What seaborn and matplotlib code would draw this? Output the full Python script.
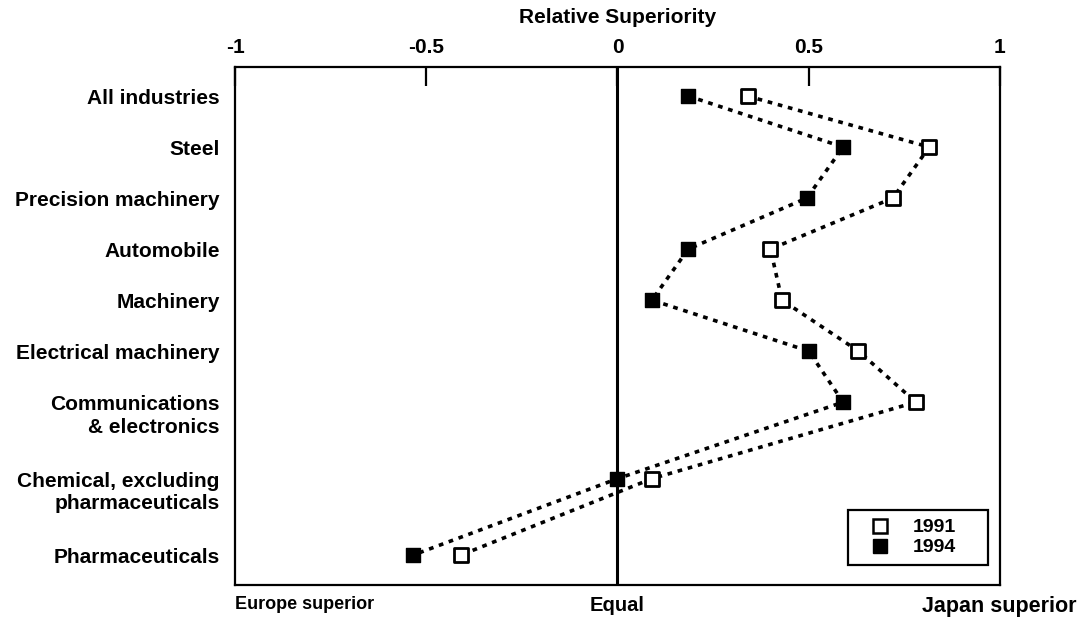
import numpy as np
import pandas as pd
import matplotlib
matplotlib.use("Agg")
import matplotlib.pyplot as plt
from matplotlib.lines import Line2D
from matplotlib.transforms import ScaledTranslation
import seaborn as sns

categories = ["All industries", "Steel", "Precision machinery", "Automobile",
              "Machinery", "Electrical machinery", "Communications\n& electronics",
              "Chemical, excluding\npharmaceuticals", "Pharmaceuticals"]
values_1991 = [0.34, 0.815, 0.72, 0.40, 0.43, 0.63, 0.78, 0.09, -0.41]
values_1994 = [0.185, 0.59, 0.495, 0.185, 0.09, 0.50, 0.59, 0.0, -0.535]
years = ["1991", "1994"]
x_ticks = [-1, -0.5, 0, 0.5, 1]
x_ticklabels = ["-1", "-0.5", "0", "0.5", "1"]
bottom_labels = ["Europe superior", "Equal", "Japan superior"]

# layout: row positions on y axis (chart leaves extra room for last two rows)
row_pos = [0, 1, 2, 3, 4, 5, 6, 7.5, 9]

df = pd.DataFrame({
    "category": categories * 2,
    "row": row_pos * 2,
    "value": values_1991 + values_1994,
    "year": [years[0]] * len(categories) + [years[1]] * len(categories),
})

sns.set_theme(style="white")
plt.rcParams["font.family"] = ["Liberation Sans", "DejaVu Sans"]
plt.rcParams["font.weight"] = "bold"
for k in ["text.color", "axes.labelcolor", "xtick.color", "ytick.color"]:
    plt.rcParams[k] = "black"

FS = 15

fig = plt.figure(figsize=(10.8, 6.2), dpi=100)
ax = fig.add_axes([0.2176, 0.056, 0.7083, 0.836])

ax.axvline(0, color="black", lw=2.2, zorder=1)

for yr in years:
    sub = df[df["year"] == yr]
    sns.lineplot(data=sub, x="value", y="row", sort=False, estimator=None,
                 color="black", lw=2.6, linestyle=(0, (1.3, 1.6)), ax=ax, zorder=2)

sub91 = df[df["year"] == "1991"]
sub94 = df[df["year"] == "1994"]
sns.scatterplot(data=sub91, x="value", y="row", marker="s", s=105,
                facecolor="white", edgecolor="black", linewidth=2, ax=ax, zorder=3)
sns.scatterplot(data=sub94, x="value", y="row", marker="s", s=105,
                color="black", edgecolor="black", linewidth=1, ax=ax, zorder=3)

ax.set_xlim(-1, 1)
ax.set_ylim(9.59, -0.57)
ax.set_xticks(x_ticks)
ax.set_xticklabels(x_ticklabels, fontsize=FS, fontweight="bold")
ax.xaxis.tick_top()
ax.xaxis.set_label_position("top")
ax.tick_params(axis="x", direction="in", length=14, width=1.6, color="black",
               pad=7, top=True, bottom=False)
ax.set_xlabel("Relative Superiority", fontsize=FS, fontweight="bold", labelpad=11)
ax.set_ylabel("")
ax.set_yticks(row_pos)
ax.set_yticklabels(categories, fontsize=FS, fontweight="bold")
ax.tick_params(axis="y", length=0, pad=11)

shift = ScaledTranslation(0, 5 / 72, fig.dpi_scale_trans)
for lbl in ax.get_yticklabels():
    if "\n" in lbl.get_text():
        lbl.set_va("top")
        lbl.set_linespacing(1.25)
        lbl.set_transform(lbl.get_transform() + shift)

for sp in ax.spines.values():
    sp.set_visible(True)
    sp.set_color("black")
    sp.set_linewidth(1.6)

# bottom annotations
xt = ax.get_xaxis_transform()
ax.text(-1, -0.02, bottom_labels[0], transform=xt, ha="left", va="top",
        fontsize=13, fontweight="bold")
ax.text(0, -0.02, bottom_labels[1], transform=xt, ha="center", va="top",
        fontsize=14.5, fontweight="bold")
ax.text(0.998, -0.02, bottom_labels[2], transform=xt, ha="center", va="top",
        fontsize=15.5, fontweight="bold")

handles = [
    Line2D([], [], marker="s", ls="none", markersize=9.5, markerfacecolor="white",
           markeredgecolor="black", markeredgewidth=1.8, label=years[0]),
    Line2D([], [], marker="s", ls="none", markersize=9.5, markerfacecolor="black",
           markeredgecolor="black", label=years[1]),
]
leg = ax.legend(handles=handles, loc="lower left",
                bbox_to_anchor=(0.801, 0.039, 0.183, 0.104), mode="expand",
                borderaxespad=0, frameon=True, fancybox=False,
                handletextpad=0.5, handlelength=2.4, borderpad=0.45,
                labelspacing=0.12, prop={"weight": "bold", "size": 14})
leg.get_frame().set_edgecolor("black")
leg.get_frame().set_linewidth(1.6)
leg.get_frame().set_alpha(1)

fig.savefig("out.png", dpi=100)
